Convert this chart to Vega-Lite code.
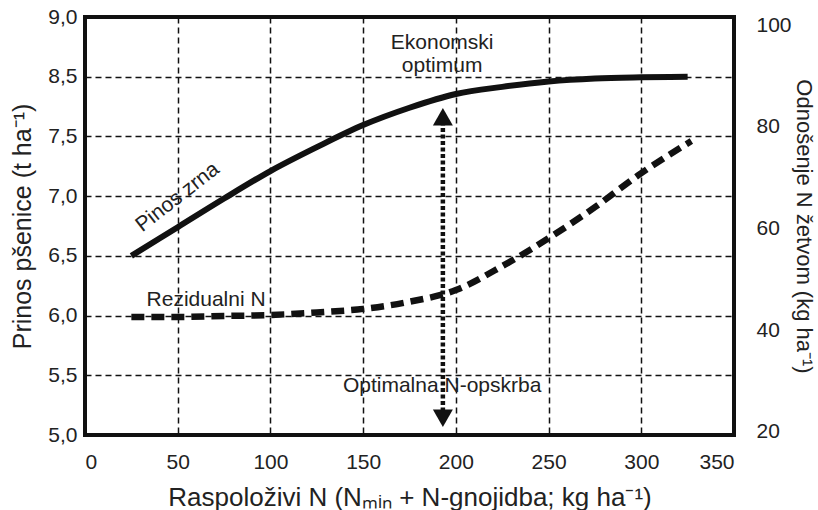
{
  "$schema": "https://vega.github.io/schema/vega-lite/v6.json",
  "width": 649,
  "height": 418,
  "autosize": {"type": "none"},
  "padding": {"left": 85, "top": 17, "right": 84, "bottom": 75},
  "background": "white",
  "config": {
    "font": "Liberation Sans",
    "view": {"stroke": "#111111", "strokeWidth": 4},
    "axis": {
      "labelFont": "Liberation Sans",
      "titleFont": "Liberation Sans",
      "labelColor": "#222222",
      "titleColor": "#222222",
      "titleFontWeight": "normal",
      "ticks": false,
      "domain": false,
      "gridColor": "#111111",
      "gridDash": [6, 4],
      "gridWidth": 1.5,
      "gridOpacity": 1,
      "labelFontSize": 21
    }
  },
  "layer": [
    {
      "layer": [
        {
          "data": {"values": [
            {"x": 25, "y": 6.5}, {"x": 50, "y": 6.74}, {"x": 75, "y": 6.98}, {"x": 100, "y": 7.21},
            {"x": 125, "y": 7.41}, {"x": 150, "y": 7.69}, {"x": 175, "y": 7.98}, {"x": 200, "y": 8.21},
            {"x": 225, "y": 8.33}, {"x": 250, "y": 8.42}, {"x": 275, "y": 8.47}, {"x": 300, "y": 8.49},
            {"x": 325, "y": 8.5}
          ]},
          "mark": {"type": "line", "color": "#111111", "strokeWidth": 6, "interpolate": "monotone", "strokeCap": "butt"},
          "encoding": {
            "x": {
              "field": "x", "type": "quantitative",
              "scale": {"domain": [0, 350], "nice": false, "zero": false},
              "axis": {
                "values": [0, 50, 100, 150, 200, 250, 300, 350],
                "grid": true,
                "labelPadding": 16,
                "title": "Raspoloživi N (Nₘᵢₙ + N-gnojidba; kg ha⁻¹)",
                "titleFontSize": 26,
                "titlePadding": 12
              }
            },
            "y": {
              "field": "y", "type": "quantitative",
              "scale": {"domain": [5, 7.5, 8.5, 9], "range": [418, 119.43, 59.71, 0], "nice": false, "zero": false},
              "axis": {
                "orient": "left",
                "values": [5, 5.5, 6, 6.5, 7, 7.5, 8.5, 9],
                "labelExpr": "replace(format(datum.value, '.1f'), '.', ',')",
                "grid": true,
                "labelPadding": 8,
                "title": "Prinos pšenice (t ha⁻¹)",
                "titleFontSize": 25,
                "titlePadding": 12
              }
            }
          }
        },
        {
          "data": {"values": [{"x": 193, "y": 7.75, "y2": 5.2}]},
          "mark": {"type": "rule", "color": "#111111", "strokeWidth": 4.5, "strokeDash": [4, 2.5]},
          "encoding": {
            "x": {"field": "x", "type": "quantitative"},
            "y": {"field": "y", "type": "quantitative"},
            "y2": {"field": "y2"}
          }
        },
        {
          "data": {"values": [{"x": 193, "y": 7.83}]},
          "mark": {"type": "point", "shape": "triangle-up", "filled": true, "size": 400, "color": "#111111", "opacity": 1},
          "encoding": {
            "x": {"field": "x", "type": "quantitative"},
            "y": {"field": "y", "type": "quantitative"}
          }
        },
        {
          "data": {"values": [{"x": 193, "y": 5.14}]},
          "mark": {"type": "point", "shape": "triangle-down", "filled": true, "size": 400, "color": "#111111", "opacity": 1},
          "encoding": {
            "x": {"field": "x", "type": "quantitative"},
            "y": {"field": "y", "type": "quantitative"}
          }
        },
        {
          "data": {"values": [{"x": 50, "y": 6.99, "label": "Pinos zrna"}]},
          "mark": {"type": "text", "angle": 322, "fontSize": 21, "align": "center", "baseline": "middle", "color": "#222222"},
          "encoding": {
            "x": {"field": "x", "type": "quantitative"},
            "y": {"field": "y", "type": "quantitative"},
            "text": {"field": "label"}
          }
        },
        {
          "data": {"values": [
            {"x": 65.3, "y": 6.13, "label": "Rezidualni N"},
            {"x": 192.6, "y": 5.41, "label": "Optimalna N-opskrba"},
            {"x": 192.6, "y": 8.785, "label": "Ekonomski\noptimum"}
          ]},
          "mark": {"type": "text", "fontSize": 21, "align": "center", "baseline": "middle", "color": "#222222", "lineBreak": "\n", "lineHeight": 23},
          "encoding": {
            "x": {"field": "x", "type": "quantitative"},
            "y": {"field": "y", "type": "quantitative"},
            "text": {"field": "label"}
          }
        }
      ]
    },
    {
      "data": {"values": [
        {"x": 25, "n": 42.6}, {"x": 50, "n": 42.6}, {"x": 75, "n": 42.8}, {"x": 100, "n": 43.0},
        {"x": 125, "n": 43.5}, {"x": 150, "n": 44.2}, {"x": 175, "n": 45.6}, {"x": 200, "n": 47.9},
        {"x": 225, "n": 52.6}, {"x": 250, "n": 58.1}, {"x": 275, "n": 64.2}, {"x": 300, "n": 70.9},
        {"x": 327, "n": 77.2}
      ]},
      "mark": {"type": "line", "color": "#111111", "strokeWidth": 6.5, "strokeDash": [13, 7], "interpolate": "monotone", "strokeCap": "butt"},
      "encoding": {
        "x": {"field": "x", "type": "quantitative"},
        "y": {
          "field": "n", "type": "quantitative",
          "scale": {"domain": [19.4, 101.6], "nice": false, "zero": false},
          "axis": {
            "orient": "right",
            "values": [20, 40, 60, 80, 100],
            "grid": false,
            "labelPadding": 22,
            "title": "Odnošenje N žetvom (kg ha⁻¹)",
            "titleFontSize": 22,
            "titlePadding": 0
          }
        }
      }
    }
  ],
  "resolve": {"scale": {"y": "independent"}}
}
